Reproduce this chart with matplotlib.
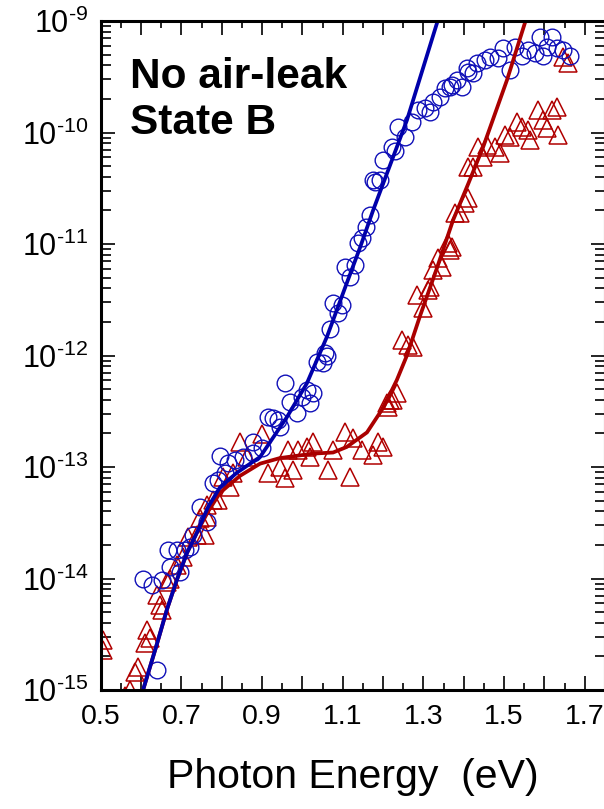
import matplotlib
matplotlib.use("Agg")
import matplotlib.pyplot as plt
import matplotlib.ticker as mticker
import numpy as np

plt.rcParams['font.family'] = ['Liberation Sans', 'DejaVu Sans']
plt.rcParams['mathtext.fontset'] = 'custom'
plt.rcParams['mathtext.rm'] = 'Liberation Sans'
plt.rcParams['mathtext.default'] = 'regular'
plt.rcParams['axes.unicode_minus'] = False

# blue circles: photon energy (eV), log10 of signal
blue_x = [0.640, 0.605, 0.627, 0.652, 0.672, 0.697, 0.667, 0.689, 0.709, 0.721,
          0.729, 0.763, 0.746, 0.778, 0.791, 0.808, 0.816, 0.796, 0.833, 0.853,
          0.877, 0.877, 0.900, 0.915, 0.927, 0.939, 0.944, 0.957, 0.969, 0.987,
          0.999, 1.011, 1.026, 1.019, 1.036, 1.051, 1.061, 1.056, 1.068, 1.076,
          1.088, 1.098, 1.105, 1.118, 1.130, 1.138, 1.148, 1.157, 1.167, 1.180,
          1.192, 1.175, 1.200, 1.222, 1.229, 1.237, 1.254, 1.271, 1.286, 1.304,
          1.316, 1.324, 1.341, 1.353, 1.371, 1.383, 1.395, 1.408, 1.423, 1.433,
          1.366, 1.410, 1.452, 1.465, 1.485, 1.497, 1.514, 1.527, 1.544, 1.559,
          1.576, 1.589, 1.606, 1.618, 1.631, 1.646, 1.663, 1.596]
blue_logy = [-14.82, -14.00, -14.06, -14.01, -13.90, -13.94, -13.74, -13.74, -13.74, -13.72,
             -13.61, -13.49, -13.36, -13.14, -13.12, -13.05, -12.96, -12.90, -12.94, -12.91,
             -12.87, -12.78, -12.83, -12.55, -12.56, -12.58, -12.64, -12.25, -12.42, -12.52,
             -12.37, -12.31, -12.34, -12.43, -12.06, -12.07, -12.00, -11.98, -11.76, -11.53,
             -11.62, -11.55, -11.21, -11.30, -11.19, -10.99, -10.95, -10.85, -10.74, -10.44,
             -10.43, -10.43, -10.25, -10.13, -10.17, -9.95, -10.04, -9.91, -9.80, -9.78,
             -9.82, -9.73, -9.68, -9.60, -9.57, -9.53, -9.59, -9.42, -9.47, -9.38,
             -9.59, -9.46, -9.35, -9.32, -9.33, -9.24, -9.44, -9.23, -9.31, -9.26,
             -9.29, -9.14, -9.23, -9.14, -9.24, -9.26, -9.31, -9.31]

# red triangles
red_x = [0.506, 0.506, 0.573, 0.560, 0.592, 0.585, 0.615, 0.610, 0.622, 0.640,
         0.647, 0.652, 0.664, 0.672, 0.689, 0.704, 0.716, 0.739, 0.758, 0.746,
         0.763, 0.778, 0.791, 0.821, 0.803, 0.828, 0.763, 0.845, 0.900, 0.863,
         0.915, 0.944, 0.957, 0.964, 0.977, 0.989, 1.011, 1.026, 1.019, 1.064,
         1.076, 1.105, 1.118, 1.125, 1.148, 1.175, 1.187, 1.200, 1.210, 1.225,
         1.234, 1.217, 1.212, 1.247, 1.262, 1.274, 1.284, 1.299, 1.311, 1.324,
         1.346, 1.336, 1.366, 1.316, 1.361, 1.371, 1.378, 1.391, 1.403, 1.410,
         1.410, 1.423, 1.435, 1.448, 1.458, 1.477, 1.490, 1.502, 1.514, 1.532,
         1.544, 1.559, 1.564, 1.584, 1.596, 1.606, 1.618, 1.631, 1.633, 1.646,
         1.658]
red_logy = [-14.55, -14.64, -15.00, -15.05, -14.79, -14.84, -14.46, -14.58, -14.53, -14.15,
            -14.24, -14.28, -14.03, -14.00, -13.88, -13.81, -13.63, -13.61, -13.61, -13.46,
            -13.34, -13.30, -13.30, -13.18, -13.09, -13.05, -13.45, -12.78, -12.70, -12.91,
            -13.05, -13.00, -13.10, -12.85, -13.03, -12.85, -12.82, -12.78, -12.91, -13.03,
            -12.85, -12.69, -13.09, -12.74, -12.85, -12.89, -12.78, -12.82, -12.43, -12.40,
            -12.34, -12.40, -12.46, -11.86, -11.91, -11.92, -11.46, -11.57, -11.41, -11.23,
            -11.21, -11.13, -11.05, -11.39, -10.99, -11.03, -10.72, -10.72, -10.63, -10.59,
            -10.31, -10.31, -10.13, -10.22, -10.11, -10.13, -10.18, -10.02, -10.04, -9.91,
            -9.95, -9.98, -10.07, -9.80, -9.89, -9.96, -9.80, -9.77, -10.02, -9.32,
            -9.38]

# fitted curves
blue_fit_x = [0.605, 0.640, 0.664, 0.689, 0.714, 0.741, 0.766, 0.796, 0.838, 0.895,
              0.962, 1.011, 1.061, 1.110, 1.143, 1.175, 1.259, 1.336]
blue_fit_logy = [-15.00, -14.58, -14.28, -14.01, -13.77, -13.57, -13.36, -13.18, -13.05, -12.91,
                 -12.55, -12.25, -11.83, -11.35, -11.03, -10.70, -9.89, -8.99]
red_fit_x = [0.605, 0.640, 0.664, 0.689, 0.714, 0.741, 0.766, 0.796, 0.845, 0.895,
             0.944, 1.026, 1.076, 1.110, 1.160, 1.200, 1.234, 1.259, 1.292, 1.334,
             1.373, 1.411, 1.448, 1.507, 1.553]
red_fit_logy = [-15.00, -14.58, -14.28, -14.01, -13.77, -13.57, -13.40, -13.23, -13.08, -12.97,
                -12.92, -12.88, -12.87, -12.82, -12.69, -12.47, -12.22, -12.00, -11.64, -11.21,
                -10.79, -10.46, -10.13, -9.53, -9.00]

y_decades = [-15, -14, -13, -12, -11, -10, -9]

blue_c = '#1010b8'
red_c = '#b00000'

fig = plt.figure(figsize=(6.04, 8.09), dpi=100)
ax = fig.add_axes([100.7 / 604, 1 - 690 / 809, 504.3 / 604, 669 / 809])

ax.plot(red_x, 10 ** np.array(red_logy), '^', ms=12.5, mfc='none', mec=red_c, mew=1.1)
ax.plot(blue_x, 10 ** np.array(blue_logy), 'o', ms=12, mfc='none', mec=blue_c, mew=1.0)
ax.plot(red_fit_x, 10 ** np.array(red_fit_logy), '-', color='#aa0000', lw=2.7)
ax.plot(blue_fit_x, 10 ** np.array(blue_fit_logy), '-', color='#0000aa', lw=2.7)

ax.set_yscale('log')
ax.set_xlim(0.5, 1.75)
ax.set_ylim(1e-15, 1e-9)

ax.xaxis.set_major_locator(mticker.MultipleLocator(0.1))
ax.xaxis.set_minor_locator(mticker.MultipleLocator(0.05))
ax.xaxis.set_major_formatter(mticker.FuncFormatter(
    lambda v, p: f'{v:.1f}' if round(v * 10) % 2 == 1 else ''))
ax.yaxis.set_major_locator(mticker.FixedLocator([10.0 ** d for d in y_decades]))
ax.yaxis.set_minor_locator(mticker.LogLocator(base=10, subs=np.arange(2, 10), numticks=20))
ax.yaxis.set_minor_formatter(mticker.NullFormatter())
# hyphen (U+2010) instead of the long mathtext minus, as in the original
ax.yaxis.set_major_formatter(mticker.FuncFormatter(
    lambda v, p: '10$^{\u2010%d}$' % abs(round(np.log10(v)))))

ax.tick_params(which='both', direction='in', top=True, right=True, width=1.2, color='black')
ax.tick_params(axis='x', which='major', length=10, labelsize=20.5, pad=10)
ax.tick_params(axis='x', which='minor', length=5)
ax.tick_params(axis='y', which='major', length=10, labelsize=22, pad=9)
ax.tick_params(axis='y', which='minor', length=7)
for s in ax.spines.values():
    s.set_linewidth(2.2)

ax.set_xlabel('Photon Energy  (eV)', fontsize=29.5, labelpad=20)

fig.text(130 / 604, 1 - 57 / 809, 'No air-leak\nState B', fontsize=30.5, fontweight='bold',
         ha='left', va='top', linespacing=1.18)

fig.savefig('out.png', dpi=100)
